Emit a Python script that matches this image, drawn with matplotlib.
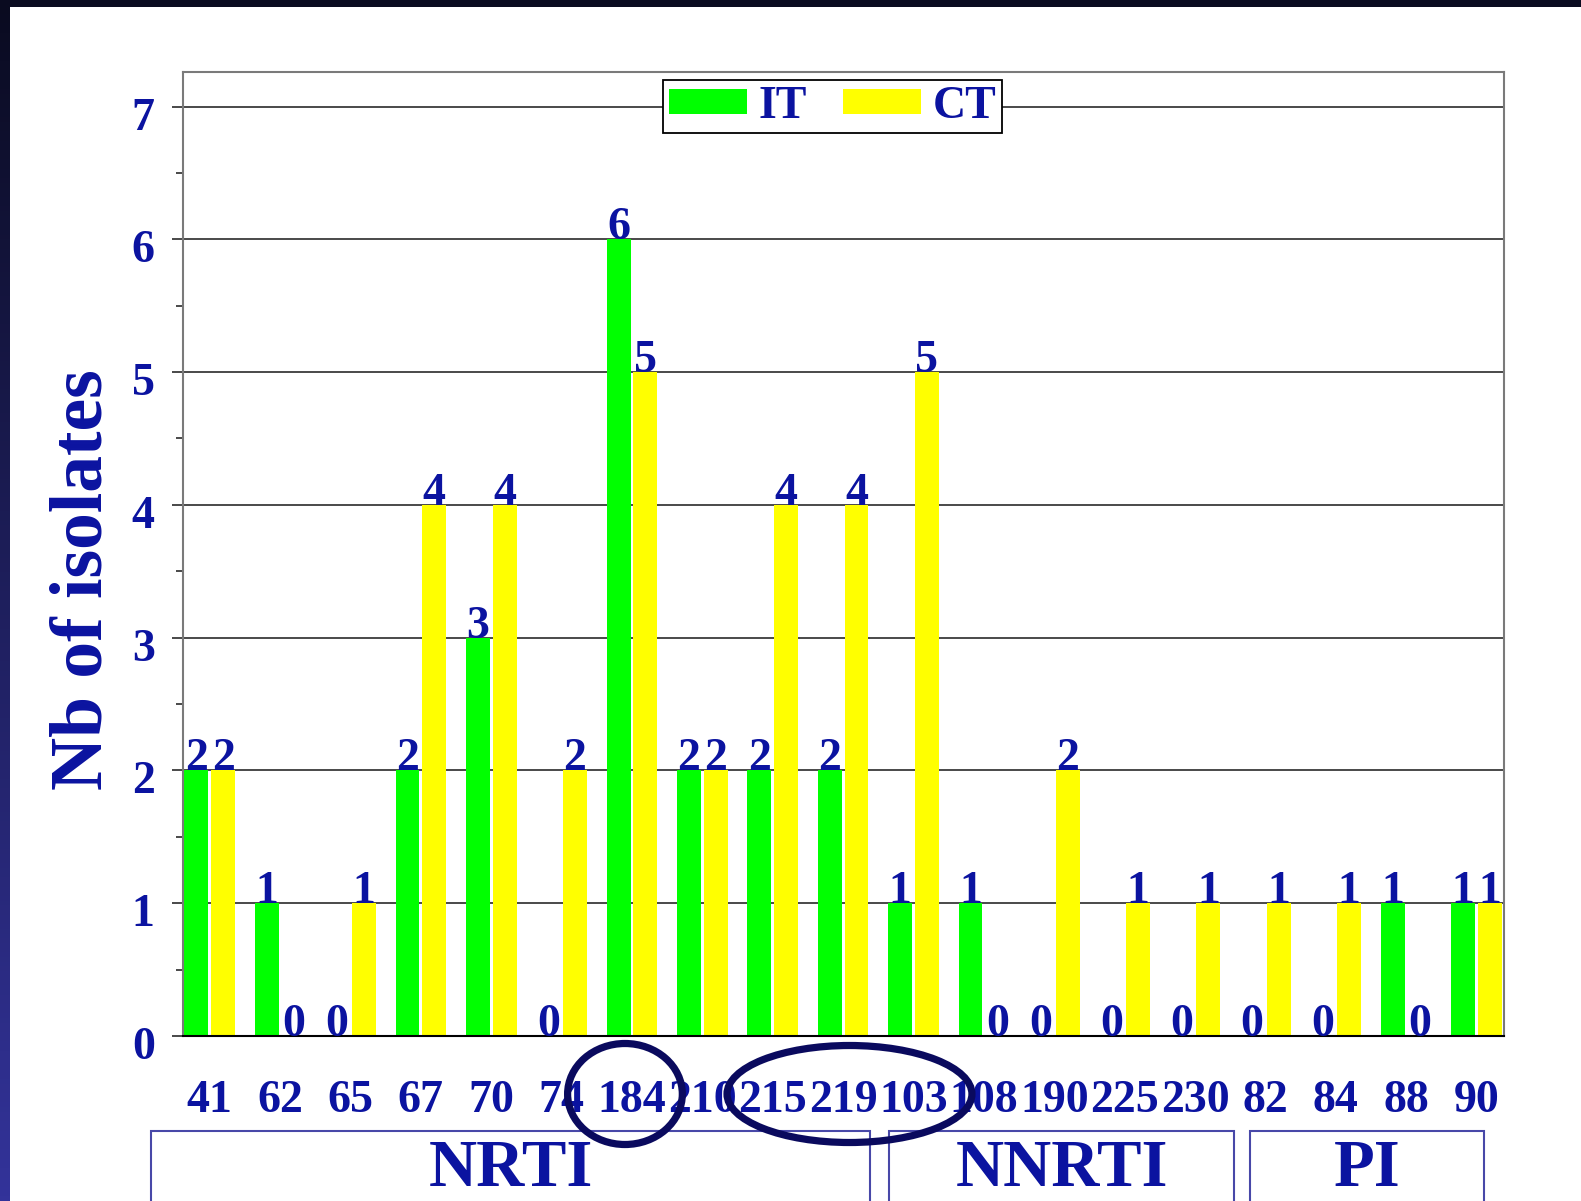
import numpy as np
import matplotlib as mpl
mpl.use('Agg')
from matplotlib import pyplot as plt
from matplotlib.patches import Ellipse, Rectangle
from matplotlib.transforms import ScaledTranslation, blended_transform_factory

# codon positions and isolate counts
positions = ['41', '62', '65', '67', '70', '74', '184', '210', '215', '219',
             '103', '108', '190', '225', '230', '82', '84', '88', '90']
it_counts = [2, 1, 0, 2, 3, 0, 6, 2, 2, 2, 1, 1, 0, 0, 0, 0, 0, 1, 1]
ct_counts = [2, 0, 1, 4, 4, 2, 5, 2, 4, 4, 5, 0, 2, 1, 1, 1, 1, 0, 1]

# drug classes with the span of positions under each box
groups = ['NRTI', 'NNRTI', 'PI']
group_spans = [(-0.83, 9.38), (9.65, 14.56), (14.78, 18.1)]

NAVY = '#0b13a0'
SERIF = 'Liberation Serif'
FS = 33

fig = plt.figure(figsize=(15.81, 12.01), dpi=100)
fig.patch.set_facecolor('white')

# slide border: dark band on top, gradient band on the left
top = fig.add_axes([0, 1 - 7 / 1201, 1, 7 / 1201])
top.set_axis_off()
top.add_patch(Rectangle((0, 0), 1, 1, transform=top.transAxes, color='#0a0b20'))
side = fig.add_axes([0, 0, 10 / 1581, 1])
side.set_axis_off()
grad = np.linspace(0, 1, 256).reshape(-1, 1)
cmap = mpl.colors.LinearSegmentedColormap.from_list('band', ['#0a0b20', '#33339a'])
side.imshow(grad, aspect='auto', cmap=cmap, extent=[0, 1, 0, 1], origin='upper')

ax = fig.add_axes([182.5 / 1581, 165 / 1201, 1321.5 / 1581, 964 / 1201])
x = np.arange(len(positions))
w = 0.34
ax.bar(x - 0.19, it_counts, w, color='#00ff00', label='IT', zorder=2)
ax.bar(x + 0.19, ct_counts, w, color='#ffff00', label='CT', zorder=2)

for xi, v in zip(x - 0.19, it_counts):
    ax.text(xi, v, str(v), ha='center', va='baseline', fontsize=FS,
            fontweight='bold', family=SERIF, color=NAVY, zorder=4)
for xi, v in zip(x + 0.19, ct_counts):
    ax.text(xi, v, str(v), ha='center', va='baseline', fontsize=FS,
            fontweight='bold', family=SERIF, color=NAVY, zorder=4)

ax.set_xlim(-0.387, 18.39)
ax.set_ylim(0, 7.26)
ax.set_yticks(range(8))
ax.set_yticks(np.arange(0.5, 7.5, 1), minor=True)
ax.yaxis.grid(True, color='#3a3a3a', lw=1.3, zorder=1)
ax.set_axisbelow(True)
ax.set_xticks(x)
ax.set_xticklabels(positions)
ax.tick_params(axis='x', length=0, pad=32)
ax.tick_params(axis='y', which='major', length=8, width=1.3, pad=12, color='#3a3a3a')
ax.tick_params(axis='y', which='minor', length=5, width=1.3, color='#3a3a3a')
for lab in ax.get_xticklabels() + ax.get_yticklabels():
    lab.set_fontsize(FS)
    lab.set_fontweight('bold')
    lab.set_family(SERIF)
    lab.set_color(NAVY)
for lab in ax.get_yticklabels():
    lab.set_va('baseline')
    lab.set_transform(lab.get_transform() + ScaledTranslation(0, -0.23, fig.dpi_scale_trans))

for s in ['top', 'right', 'left']:
    ax.spines[s].set_color('#7a7a7a')
    ax.spines[s].set_linewidth(1.5)
ax.spines['bottom'].set_color('black')
ax.spines['bottom'].set_linewidth(1.5)

leg = ax.legend(loc='center', bbox_to_anchor=(0.492, 0.9637), ncol=2,
                prop={'family': SERIF, 'weight': 'bold', 'size': FS},
                handlelength=1.7, handleheight=0.45, handletextpad=0.25,
                columnspacing=0.8, borderpad=0.12, fancybox=False,
                framealpha=1, edgecolor='black')
leg.get_frame().set_linewidth(1.3)
for t in leg.get_texts():
    t.set_color(NAVY)

fig.text(84 / 1581, 1 - 580 / 1201, 'Nb of isolates', rotation=90, ha='center',
         va='center', fontsize=53, fontweight='bold', family=SERIF, color=NAVY)

# drug class boxes below the axis
bt = blended_transform_factory(ax.transData, fig.transFigure)
box_top = 1 - 1131 / 1201
for name, (x0, x1) in zip(groups, group_spans):
    ax.add_patch(Rectangle((x0, -0.05), x1 - x0, box_top + 0.05, transform=bt,
                           fill=False, edgecolor='#4848a8', lw=1.5, clip_on=False))
    ax.text((x0 + x1) / 2, 1 - 1186 / 1201, name, transform=bt, ha='center',
            va='baseline', fontsize=48, fontweight='bold', family=SERIF,
            color=NAVY, clip_on=False)

# highlighted positions
for cx, ew, eh in [(5.9, 1.63, 101 / 1201), (9.09, 3.48, 97 / 1201)]:
    ax.add_patch(Ellipse((cx, 1 - 1094 / 1201), ew, eh, transform=bt, fill=False,
                         edgecolor='#0a0a5e', lw=5.2, clip_on=False, zorder=5))

plt.savefig('out.png', dpi=100)
